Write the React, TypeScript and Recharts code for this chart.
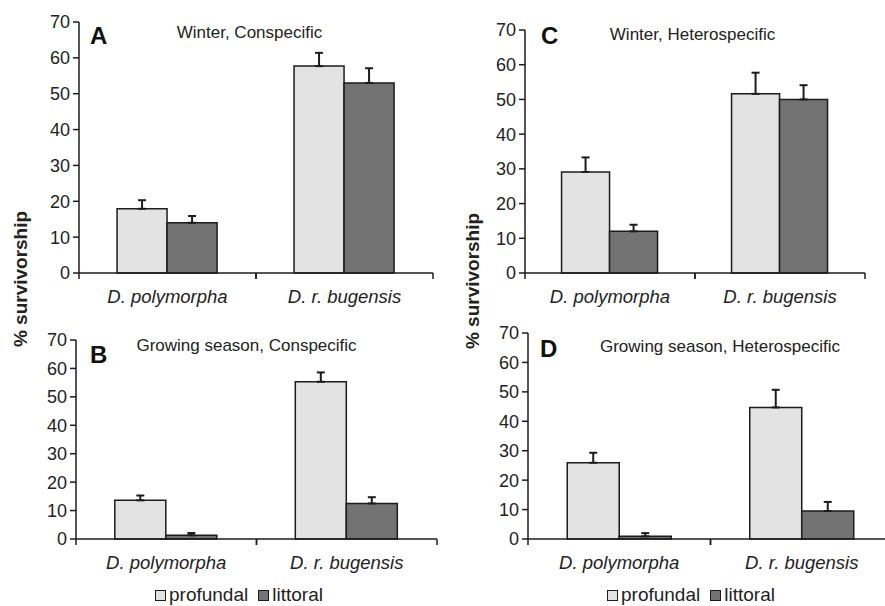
import React from "react";
import { BarChart, Bar, XAxis, YAxis, ErrorBar } from "recharts";

const categories = ["D. polymorpha", "D. r. bugensis"];
const seriesNames = ["profundal", "littoral"];
const yTicks = [0, 10, 20, 30, 40, 50, 60, 70];

// Panel A: Winter, Conspecific
const aProfundal = [17.9, 57.7];
const aProfundalErr = [2.4, 3.7];
const aLittoral = [14.0, 53.0];
const aLittoralErr = [1.9, 4.1];

// Panel B: Growing season, Conspecific
const bProfundal = [13.6, 55.3];
const bProfundalErr = [1.7, 3.3];
const bLittoral = [1.3, 12.5];
const bLittoralErr = [0.8, 2.2];

// Panel C: Winter, Heterospecific
const cProfundal = [29.1, 51.6];
const cProfundalErr = [4.2, 6.1];
const cLittoral = [12.0, 50.0];
const cLittoralErr = [1.9, 4.1];

// Panel D: Growing season, Heterospecific
const dProfundal = [25.9, 44.7];
const dProfundalErr = [3.4, 6.0];
const dLittoral = [0.9, 9.5];
const dLittoralErr = [1.1, 3.1];

const FONT = "'Liberation Sans', Arial, Helvetica, sans-serif";
const LIGHT = "#e3e3e3";
const DARK = "#737373";
const INK = "#1c1c1c";

function buildRows(p: number[], pe: number[], l: number[], le: number[]) {
  return categories.map((c, i) => ({
    cat: c,
    prof: p[i],
    profErr: [0, pe[i]],
    lit: l[i],
    litErr: [0, le[i]],
  }));
}

type PanelProps = {
  rows: any[];
  plotLeft: number;
  plotTop: number;
  plotRight: number;
  plotBottom: number;
};

const ML = 60;
const MT = 15;
const MR = 10;
const XH = 45;

function Panel({ rows, plotLeft, plotTop, plotRight, plotBottom }: PanelProps) {
  const pw = plotRight - plotLeft;
  const ph = plotBottom - plotTop;
  const width = pw + ML + MR;
  const height = ph + MT + XH;
  const quarter = pw / 4;
  const renderTick = (props: any) => {
    const { x, y, payload } = props;
    return (
      <g>
        <line x1={x - quarter} y1={y} x2={x - quarter} y2={y + 6} stroke={INK} strokeWidth={1.5} />
        <line x1={x + quarter} y1={y} x2={x + quarter} y2={y + 6} stroke={INK} strokeWidth={1.5} />
        <text
          x={x}
          y={y + 30}
          textAnchor="middle"
          fontSize={18.5}
          fontStyle="italic"
          fontFamily={FONT}
          fill="#222"
        >
          {payload.value}
        </text>
      </g>
    );
  };
  return (
    <div style={{ position: "absolute", left: plotLeft - ML, top: plotTop - MT, width, height }}>
      <BarChart
        width={width}
        height={height}
        data={rows}
        margin={{ top: MT, right: MR, left: 0, bottom: 0 }}
        barCategoryGap="21.5%"
        barGap={0}
      >
        <XAxis
          dataKey="cat"
          height={XH}
          tickLine={false}
          tickSize={0}
          tickMargin={0}
          interval={0}
          axisLine={{ stroke: INK, strokeWidth: 1.5 }}
          tick={renderTick}
        />
        <YAxis
          width={ML}
          domain={[0, 70]}
          ticks={yTicks}
          interval={0}
          tickSize={6}
          tickMargin={3}
          axisLine={{ stroke: INK, strokeWidth: 1.5 }}
          tickLine={{ stroke: INK, strokeWidth: 1.5 }}
          tick={{ fontSize: 18, fill: "#222", fontFamily: FONT }}
        />
        <Bar dataKey="prof" name={seriesNames[0]} fill={LIGHT} stroke={INK} strokeWidth={1.5} isAnimationActive={false}>
          <ErrorBar dataKey="profErr" direction="y" width={4} stroke={INK} strokeWidth={2} />
        </Bar>
        <Bar dataKey="lit" name={seriesNames[1]} fill={DARK} stroke={INK} strokeWidth={1.5} isAnimationActive={false}>
          <ErrorBar dataKey="litErr" direction="y" width={4} stroke={INK} strokeWidth={2} />
        </Bar>
      </BarChart>
    </div>
  );
}

function LegendBox({ left, top }: { left: number; top: number }) {
  const colors = [LIGHT, DARK];
  return (
    <div
      style={{
        position: "absolute",
        left,
        top,
        display: "flex",
        alignItems: "center",
        fontFamily: FONT,
        fontSize: 19,
        color: "#222",
        lineHeight: "22px",
        whiteSpace: "nowrap",
      }}
    >
      {seriesNames.map((n, i) => (
        <div key={n} style={{ display: "flex", alignItems: "center", marginRight: i === 0 ? 10 : 0 }}>
          <span
            style={{
              display: "inline-block",
              width: 9,
              height: 9,
              background: colors[i],
              border: `1.5px solid ${INK}`,
              marginRight: 3,
            }}
          />
          <span>{n}</span>
        </div>
      ))}
    </div>
  );
}

export default function App() {
  const rowsA = buildRows(aProfundal, aProfundalErr, aLittoral, aLittoralErr);
  const rowsB = buildRows(bProfundal, bProfundalErr, bLittoral, bLittoralErr);
  const rowsC = buildRows(cProfundal, cProfundalErr, cLittoral, cLittoralErr);
  const rowsD = buildRows(dProfundal, dProfundalErr, dLittoral, dLittoralErr);
  return (
    <div
      style={{
        position: "absolute",
        left: 0,
        top: 0,
        width: 885,
        height: 606,
        overflow: "hidden",
        background: "#fff",
        fontFamily: FONT,
      }}
    >
      <Panel rows={rowsA} plotLeft={79} plotTop={22} plotRight={433} plotBottom={273} />
      <Panel rows={rowsB} plotLeft={76} plotTop={340} plotRight={437} plotBottom={539} />
      <Panel rows={rowsC} plotLeft={525} plotTop={30} plotRight={865} plotBottom={273} />
      <Panel rows={rowsD} plotLeft={528} plotTop={333} plotRight={893} plotBottom={539} />
      <LegendBox left={155} top={584} />
      <LegendBox left={607} top={584} />
      <svg
        width={885}
        height={606}
        style={{ position: "absolute", left: 0, top: 0, pointerEvents: "none" }}
        fontFamily={FONT}
      >
        <text x={20} y={279} transform="rotate(-90 20 279)" textAnchor="middle" dominantBaseline="central" fontSize={19} fontWeight="bold" fill="#222">
          % survivorship
        </text>
        <text x={472} y={281} transform="rotate(-90 472 281)" textAnchor="middle" dominantBaseline="central" fontSize={19} fontWeight="bold" fill="#222">
          % survivorship
        </text>
        <text x={90} y={44} fontSize={24} fontWeight="bold" fill="#111">A</text>
        <text x={249.5} y={38} textAnchor="middle" fontSize={17} fill="#222">Winter, Conspecific</text>
        <text x={541} y={43.5} fontSize={24} fontWeight="bold" fill="#111">C</text>
        <text x={692.5} y={40} textAnchor="middle" fontSize={17} fill="#222">Winter, Heterospecific</text>
        <text x={90} y={362.5} fontSize={24} fontWeight="bold" fill="#111">B</text>
        <text x={246.5} y={350.5} textAnchor="middle" fontSize={17} fill="#222">Growing season, Conspecific</text>
        <text x={540} y={357} fontSize={24} fontWeight="bold" fill="#111">D</text>
        <text x={720} y={352} textAnchor="middle" fontSize={17} fill="#222">Growing season, Heterospecific</text>
      </svg>
    </div>
  );
}
